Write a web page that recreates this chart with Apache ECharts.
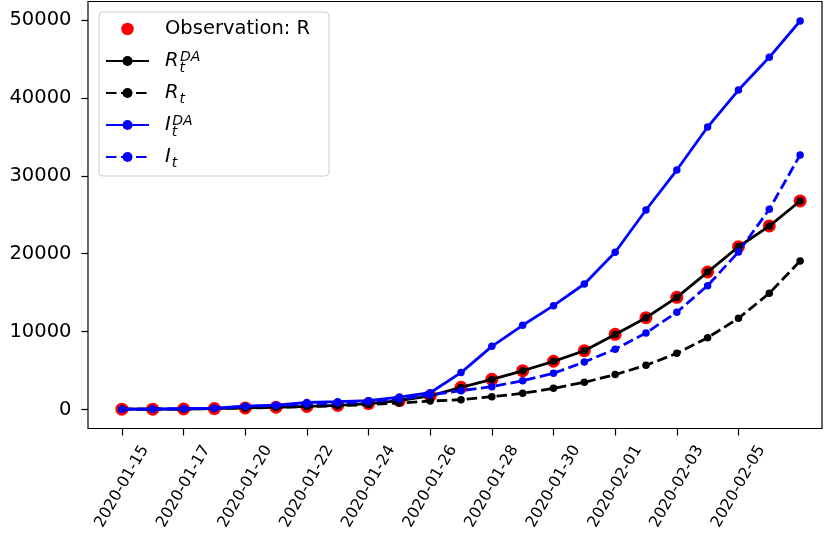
<!DOCTYPE html>
<html>
<head>
<meta charset="utf-8">
<script src="https://cdn.jsdelivr.net/npm/echarts@6/dist/echarts.min.js"></script>
<style>
html,body{margin:0;padding:0;background:#fff;}
#chart{width:824px;height:537px;}
</style>
</head>
<body>
<div id="chart"></div>
<script>
// ---- data ----
const dates = ['2020-01-15','2020-01-16','2020-01-17','2020-01-19','2020-01-20','2020-01-21','2020-01-22','2020-01-23',
  '2020-01-24','2020-01-25','2020-01-26','2020-01-27','2020-01-28','2020-01-29','2020-01-30','2020-01-31',
  '2020-02-01','2020-02-02','2020-02-03','2020-02-04','2020-02-05','2020-02-06','2020-02-07'];
const tickIdx = [0,2,4,6,8,10,12,14,16,18,20];
const yTicks = [0,10000,20000,30000,40000,50000];
const obsR  = [41,45,62,121,198,291,400,520,760,1150,1750,2850,3870,4980,6190,7550,9650,11790,14400,17650,20900,23560,26770];
const rDA   = [41,45,62,121,198,291,400,520,760,1150,1750,2830,3860,4970,6180,7540,9640,11780,14390,17640,20890,23550,26760];
const rT    = [41,45,62,115,190,280,370,470,640,820,1090,1250,1640,2080,2720,3490,4480,5670,7210,9220,11700,14920,19060];
const iDA   = [45,60,100,170,420,560,900,1000,1130,1600,2150,4740,8110,10810,13330,16110,20180,25610,30740,36260,41010,45210,49870];
const iT    = [42,55,90,150,380,500,700,820,980,1350,1850,2420,2930,3700,4650,6100,7730,9820,12480,15900,20220,25700,32670];
const names = ['Observation: R','R_t^DA','R_t','I_t^DA','I_t'];

const FONT = 'DejaVu Sans';
const pairs = a => a.map((v,i)=>[i,v]);

function lineSeries(name, data, color, dashed) {
  return {
    name, type:'line', data: pairs(data),
    symbol:'circle', symbolSize:7.5, showAllSymbol:true,
    lineStyle:{color, width:2.8, type: dashed ? [10.5,4.5] : 'solid'},
    itemStyle:{color},
    emphasis:{disabled:true}
  };
}

const chart = echarts.init(document.getElementById('chart'), null, {renderer:'canvas'});
chart.setOption({
  animation:false,
  backgroundColor:'#fff',
  grid:{left:88, right:2, top:1.5, bottom:108.5, show:true, borderColor:'#000', borderWidth:1.2, backgroundColor:'transparent'},
  xAxis:{
    type:'value', min:-1.1, max:22.71, position:'bottom',
    splitLine:{show:false},
    axisLine:{show:false, onZero:false},
    axisTick:{show:true, customValues:tickIdx, length:7, lineStyle:{color:'#000', width:1.2}},
    axisLabel:{customValues:tickIdx, formatter:v=>dates[v], rotate:60, align:'center', verticalAlign:'middle',
      margin:58, fontSize:15.8, color:'#000', fontFamily:FONT}
  },
  yAxis:{
    type:'value', min:-2440, max:52375, position:'left',
    splitLine:{show:false},
    axisLine:{show:false, onZero:false},
    axisTick:{show:true, customValues:yTicks, length:6.6, lineStyle:{color:'#000', width:1.2}},
    axisLabel:{customValues:yTicks, formatter:v=>String(v), margin:16.5, fontSize:19.5, color:'#000', fontFamily:FONT}
  },
  legend:{
    orient:'vertical', left:99, top:12,
    itemWidth:43, itemHeight:12.5, itemGap:0,
    padding:[1,19,3,6],
    backgroundColor:'rgba(255,255,255,0.8)', borderColor:'#cccccc', borderWidth:1, borderRadius:4,
    data:[{name:names[0], icon:'circle'}, names[1], names[2], names[3], names[4]],
    formatter:function(name){
      if (name === 'Observation: R') return '{sp|}{n|Observation: R}';
      if (name === 'R_t^DA') return '{sp|}{it|R}{subz|t}{sup|DA}';
      if (name === 'R_t') return '{sp|}{it|R}{sub|t}';
      if (name === 'I_t^DA') return '{sp|}{it|I}{subz|t}{sup|DA}';
      return '{sp|}{it|I}{sub|t}';
    },
    textStyle:{
      fontFamily:FONT, fontSize:19.5, color:'#000', lineHeight:32,
      rich:{
        sp:{width:11, height:32, lineHeight:32},
        n:{fontFamily:FONT, fontSize:19.5, color:'#000', lineHeight:32},
        it:{fontFamily:FONT, fontSize:19.5, fontStyle:'italic', color:'#000', lineHeight:32},
        sub:{fontFamily:FONT, fontSize:14, fontStyle:'italic', color:'#000', padding:[12,0,0,1]},
        subz:{fontFamily:FONT, fontSize:14, fontStyle:'italic', color:'#000', padding:[14,0,0,1], width:0.5},
        sup:{fontFamily:FONT, fontSize:14, fontStyle:'italic', color:'#000', padding:[0,0,8,0]}
      }
    }
  },
  series:[
    {name:names[0], type:'scatter', data:pairs(obsR), symbol:'circle', symbolSize:13, itemStyle:{color:'#ff0000', opacity:1}, emphasis:{disabled:true}},
    lineSeries(names[1], rDA, '#000000', false),
    lineSeries(names[2], rT, '#000000', true),
    lineSeries(names[3], iDA, '#0000ff', false),
    lineSeries(names[4], iT, '#0000ff', true)
  ]
});
</script>
</body>
</html>
